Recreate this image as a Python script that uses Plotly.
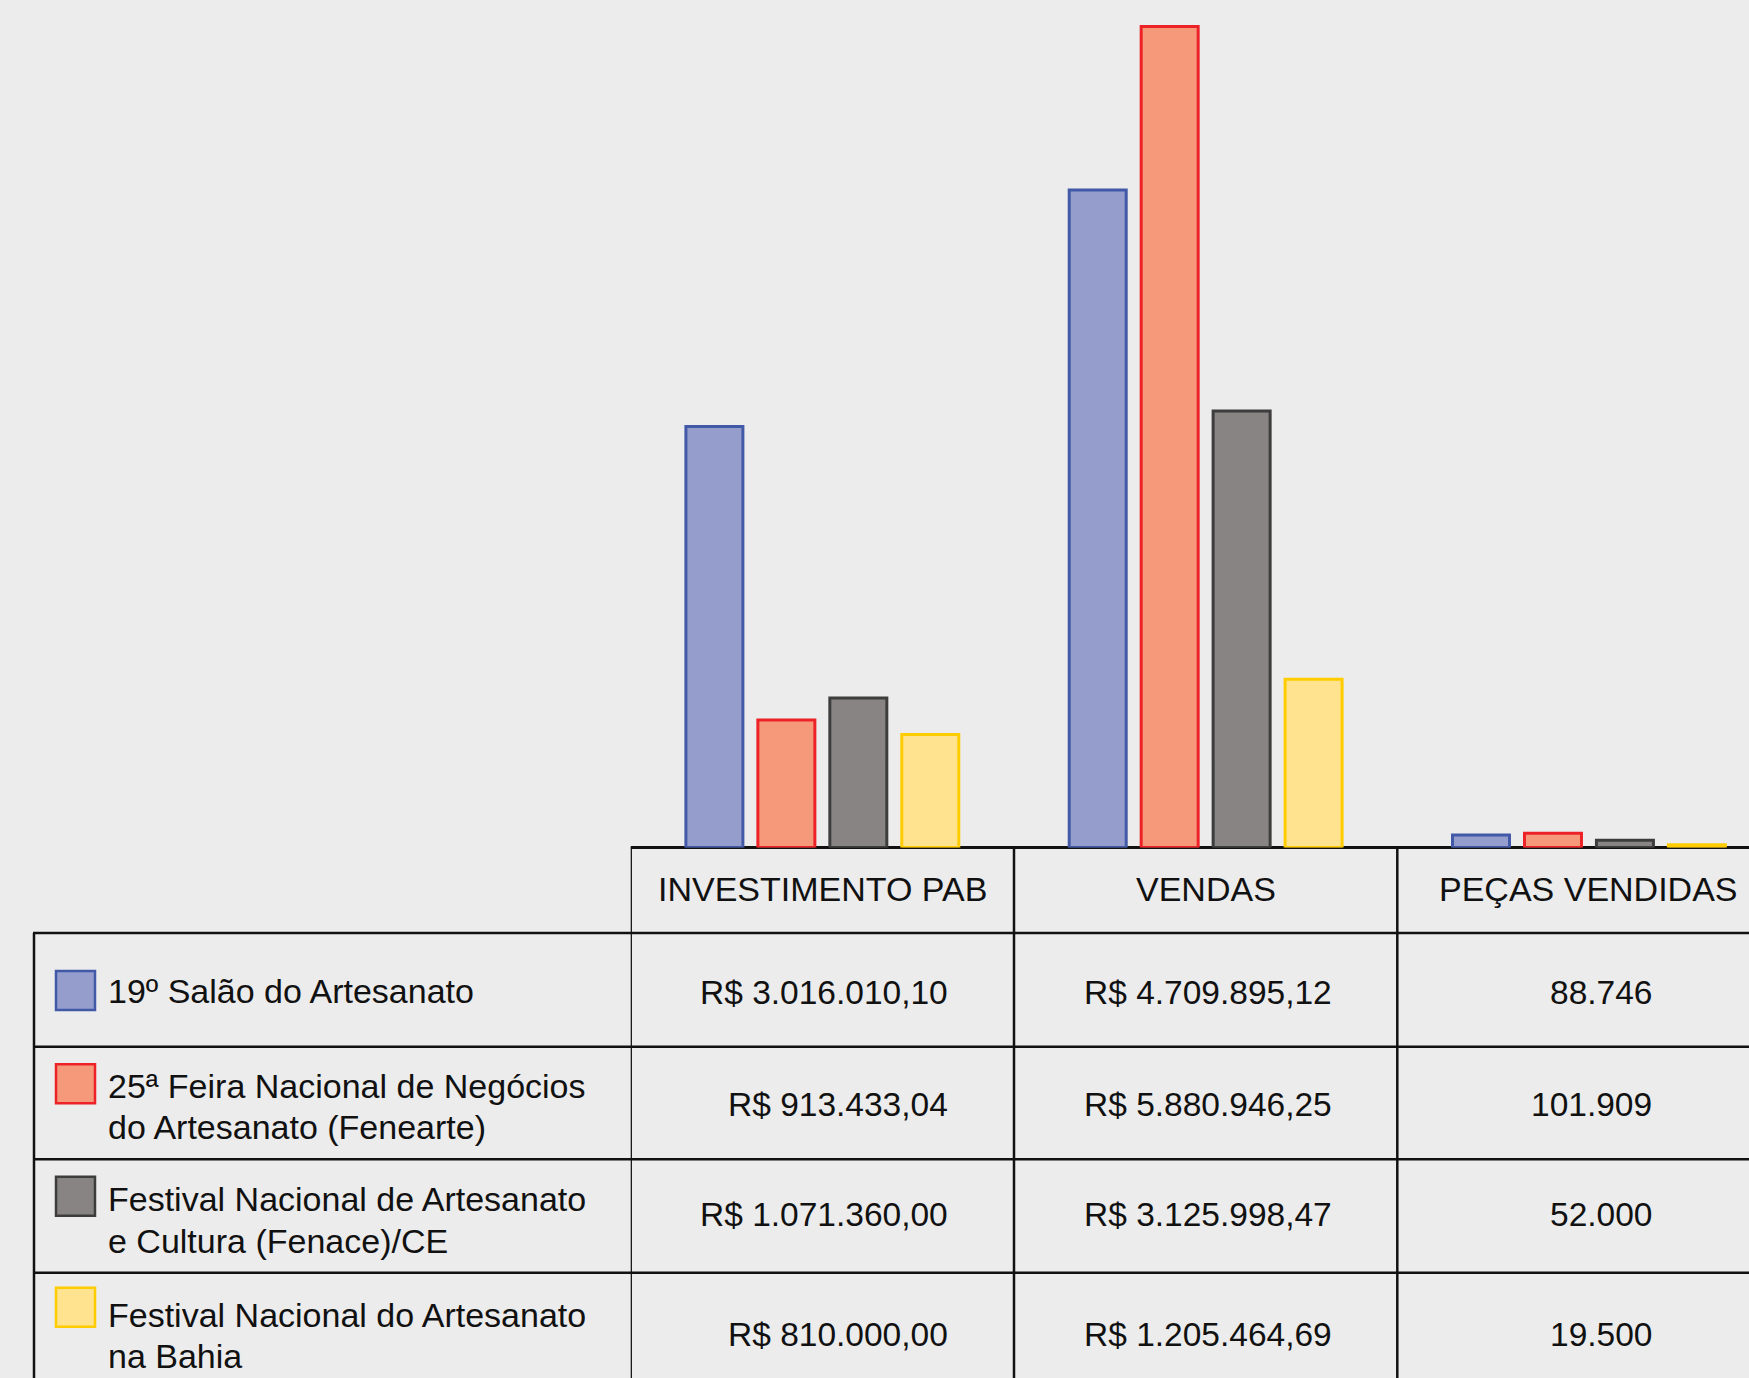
import plotly.graph_objects as go

W, H = 1749, 1378

# ---------------- data ----------------
categories = ["INVESTIMENTO PAB", "VENDAS", "PEÇAS VENDIDAS"]
series_names = [
    "19º Salão do Artesanato",
    "25ª Feira Nacional de Negócios<br>do Artesanato (Fenearte)",
    "Festival Nacional de Artesanato<br>e Cultura (Fenace)/CE",
    "Festival Nacional do Artesanato<br>na Bahia",
]
investimento = [3016010.10, 913433.04, 1071360.00, 810000.00]
vendas = [4709895.12, 5880946.25, 3125998.47, 1205464.69]
pecas = [88746, 101909, 52000, 19500]

fill_colors = ["#959DCD", "#F6997B", "#878483", "#FFE38F"]
line_colors = ["#4159A7", "#EC2227", "#3D3D3D", "#FFCC00"]

BG = "#ECECEC"
FONT = "Liberation Sans"
TXT = "#111111"

# ---------------- helpers (layout only) ----------------
def px(x):
    return x / W

def py(y):
    return 1 - y / H

def brl(v):
    s = f"{v:,.2f}"
    s = s.replace(",", "X").replace(".", ",").replace("X", ".")
    return "R$ " + s

def num(v):
    return f"{v:,}".replace(",", ".")

# ---------------- figure ----------------
fig = go.Figure()
for i, name in enumerate(series_names):
    fig.add_trace(go.Bar(
        x=list(range(len(categories))),
        y=[investimento[i], vendas[i], pecas[i]],
        name=name.replace("<br>", " "),
        marker=dict(color=fill_colors[i], line=dict(color=line_colors[i], width=3)),
        showlegend=False,
        hoverinfo="skip",
    ))

zero_px = 847.5
x_left_px = 630.7
cat_w = 383.3
x_right = -0.5 + (W - x_left_px) / cat_w

fig.update_layout(
    width=W, height=H,
    margin=dict(l=0, r=0, t=0, b=0),
    paper_bgcolor=BG, plot_bgcolor=BG,
    barmode="group", bargap=0.249, bargroupgap=0.208,
    xaxis=dict(domain=[px(x_left_px), 1], range=[-0.5, x_right], visible=False, fixedrange=True),
    yaxis=dict(domain=[py(zero_px), 1], range=[0, 6.071e6], visible=False, fixedrange=True),
    font=dict(family=FONT, color=TXT),
)

shapes = []
LINE = dict(color=TXT, width=2.5)
# baseline / header top
shapes.append(dict(type="line", xref="x", yref="paper", x0=-0.5, x1=x_right, y0=py(zero_px), y1=py(zero_px),
                   line=dict(color=TXT, width=3), layer="below"))
# vertical column lines (category boundaries)
for b in [-0.5, 0.5, 1.5]:
    shapes.append(dict(type="line", xref="x", yref="paper", x0=b, x1=b, y0=py(zero_px - 1), y1=py(H + 5), line=LINE))
# left border of label column
shapes.append(dict(type="line", xref="paper", yref="paper", x0=px(34), x1=px(34), y0=py(933), y1=py(H + 5), line=LINE))
# horizontal row lines
row_lines = [933, 1046.7, 1159.3, 1272.7]
for r in row_lines:
    shapes.append(dict(type="line", xref="paper", yref="paper", x0=px(33), x1=1, y0=py(r), y1=py(r), line=LINE))

# legend swatches
swatch_tops = [971, 1064.3, 1176.7, 1287.7]
for i, t in enumerate(swatch_tops):
    shapes.append(dict(type="rect", xref="paper", yref="paper", x0=px(56), x1=px(95), y0=py(t), y1=py(t + 39),
                       fillcolor=fill_colors[i], line=dict(color=line_colors[i], width=2.5)))

annotations = []
# header labels
for j, c in enumerate(categories):
    annotations.append(dict(text=c, xref="x", yref="paper", x=j, y=py(889), xanchor="center", yanchor="middle",
                            showarrow=False, font=dict(size=34, family=FONT, color=TXT)))

# series labels (one annotation per text line)
label_line_centers = [[990.7], [1085.7, 1127.0], [1199.0, 1240.7], [1315.0, 1355.7]]
for i, name in enumerate(series_names):
    for k, line_txt in enumerate(name.split("<br>")):
        annotations.append(dict(text=line_txt, xref="paper", yref="paper", x=px(106), y=py(label_line_centers[i][k]),
                                xanchor="left", yanchor="middle", align="left", showarrow=False,
                                font=dict(size=34, family=FONT, color=TXT)))

# values
value_centers = [992, 1104, 1214, 1334]
col_shift = [127.6, 128.0, 64.7]
columns = [[brl(v) for v in investimento], [brl(v) for v in vendas], [num(v) for v in pecas]]
for j, col in enumerate(columns):
    for i, txt in enumerate(col):
        annotations.append(dict(text=txt, xref="x", yref="paper", x=j, xshift=col_shift[j], y=py(value_centers[i]),
                                xanchor="right", yanchor="middle", showarrow=False,
                                font=dict(size=33.5, family=FONT, color=TXT)))

fig.update_layout(shapes=shapes, annotations=annotations)
fig.write_html(
    "out.html",
    config={"displayModeBar": False, "staticPlot": True},
    post_script="document.body.style.margin='0';document.body.style.padding='0';"
                "document.body.style.background='#ECECEC';document.documentElement.style.overflow='hidden';",
)
